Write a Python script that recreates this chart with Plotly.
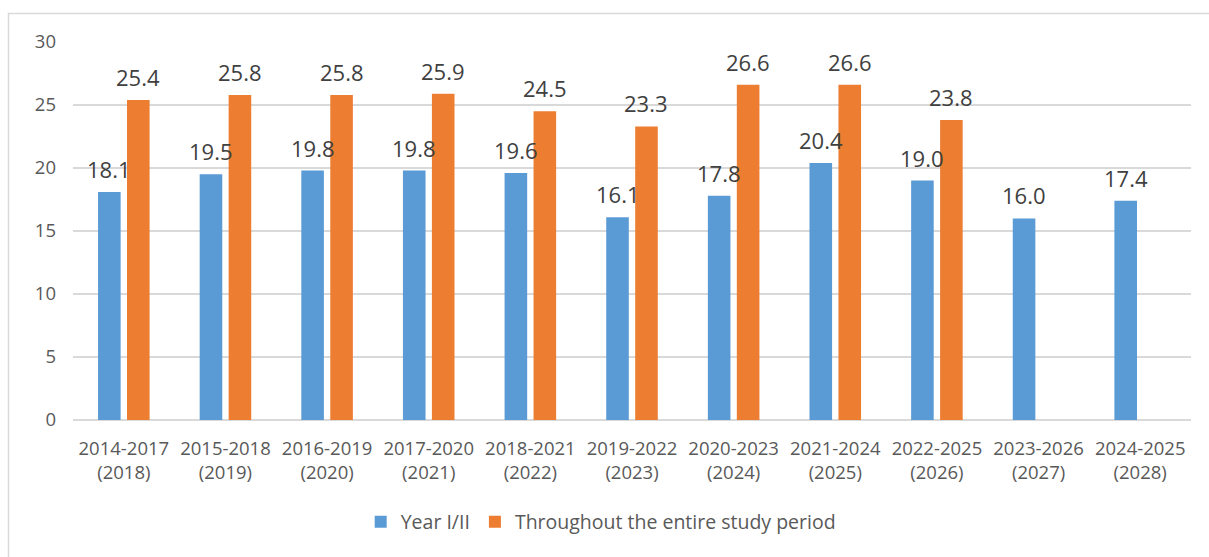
import plotly.graph_objects as go

# Data
periods = ['2014-2017<br>(2018)', '2015-2018<br>(2019)', '2016-2019<br>(2020)',
           '2017-2020<br>(2021)', '2018-2021<br>(2022)', '2019-2022<br>(2023)',
           '2020-2023<br>(2024)', '2021-2024<br>(2025)', '2022-2025<br>(2026)',
           '2023-2026<br>(2027)', '2024-2025<br>(2028)']
year_1_2 = [18.1, 19.5, 19.8, 19.8, 19.6, 16.1, 17.8, 20.4, 19.0, 16.0, 17.4]
entire_period = [25.4, 25.8, 25.8, 25.9, 24.5, 23.3, 26.6, 26.6, 23.8, None, None]

BLUE = '#5B9BD5'
ORANGE = '#ED7D31'
FONT = 'Open Sans'
BARGAP = 0.43

fig = go.Figure()

fig.add_trace(go.Bar(
    x=periods, y=year_1_2, name='Year I/II',
    marker=dict(color=BLUE, line=dict(width=0)),
))
fig.add_trace(go.Bar(
    x=periods, y=entire_period, name='Throughout the entire study period',
    marker=dict(color=ORANGE, line=dict(width=0)),
))

# value labels above bars (offset to each bar within its group)
offset = (1 - BARGAP) / 4
for series, shift in ((year_1_2, -offset), (entire_period, offset)):
    for i, v in enumerate(series):
        if v is None:
            continue
        fig.add_annotation(
            x=i + shift, y=v, xref='x', yref='y',
            text=f'{v:.1f}', showarrow=False,
            yanchor='bottom', yshift=6,
            font=dict(family=FONT, size=22, color='#404040'),
        )

# outer chart border (only top/left visible in the frame)
fig.add_shape(type='rect', xref='paper', yref='paper',
              x0=-0.0577, y0=1.0754, x1=1.2, y1=-0.6,
              line=dict(color='#D9D9D9', width=1.5), fillcolor='rgba(0,0,0,0)',
              layer='below')

fig.update_layout(
    width=1209, height=557,
    margin=dict(l=73, r=18, t=42, b=137),
    paper_bgcolor='white', plot_bgcolor='white',
    barmode='group', bargap=BARGAP, bargroupgap=0.22,
    font=dict(family=FONT, color='#595959', size=18),
    showlegend=True,
    legend=dict(orientation='h', x=0.472, xanchor='center', y=-0.27, yanchor='middle',
                font=dict(family=FONT, size=19.5, color='#595959'),
                itemwidth=30, traceorder='normal'),
    xaxis=dict(showgrid=False, showline=False, ticks='',
               tickfont=dict(family=FONT, size=18.5, color='#595959'),
               ticklabelstandoff=15),
    yaxis=dict(range=[0, 30], dtick=5, showgrid=True, gridcolor='#D9D9D9', gridwidth=1.5,
               zeroline=True, zerolinecolor='#D9D9D9', zerolinewidth=1.5,
               showline=False, ticks='',
               tickfont=dict(family=FONT, size=18.5, color='#595959'),
               ticklabelstandoff=16),
)

fig.write_html('out.html', config={'displayModeBar': False},
               post_script="document.body.style.margin='0';")
